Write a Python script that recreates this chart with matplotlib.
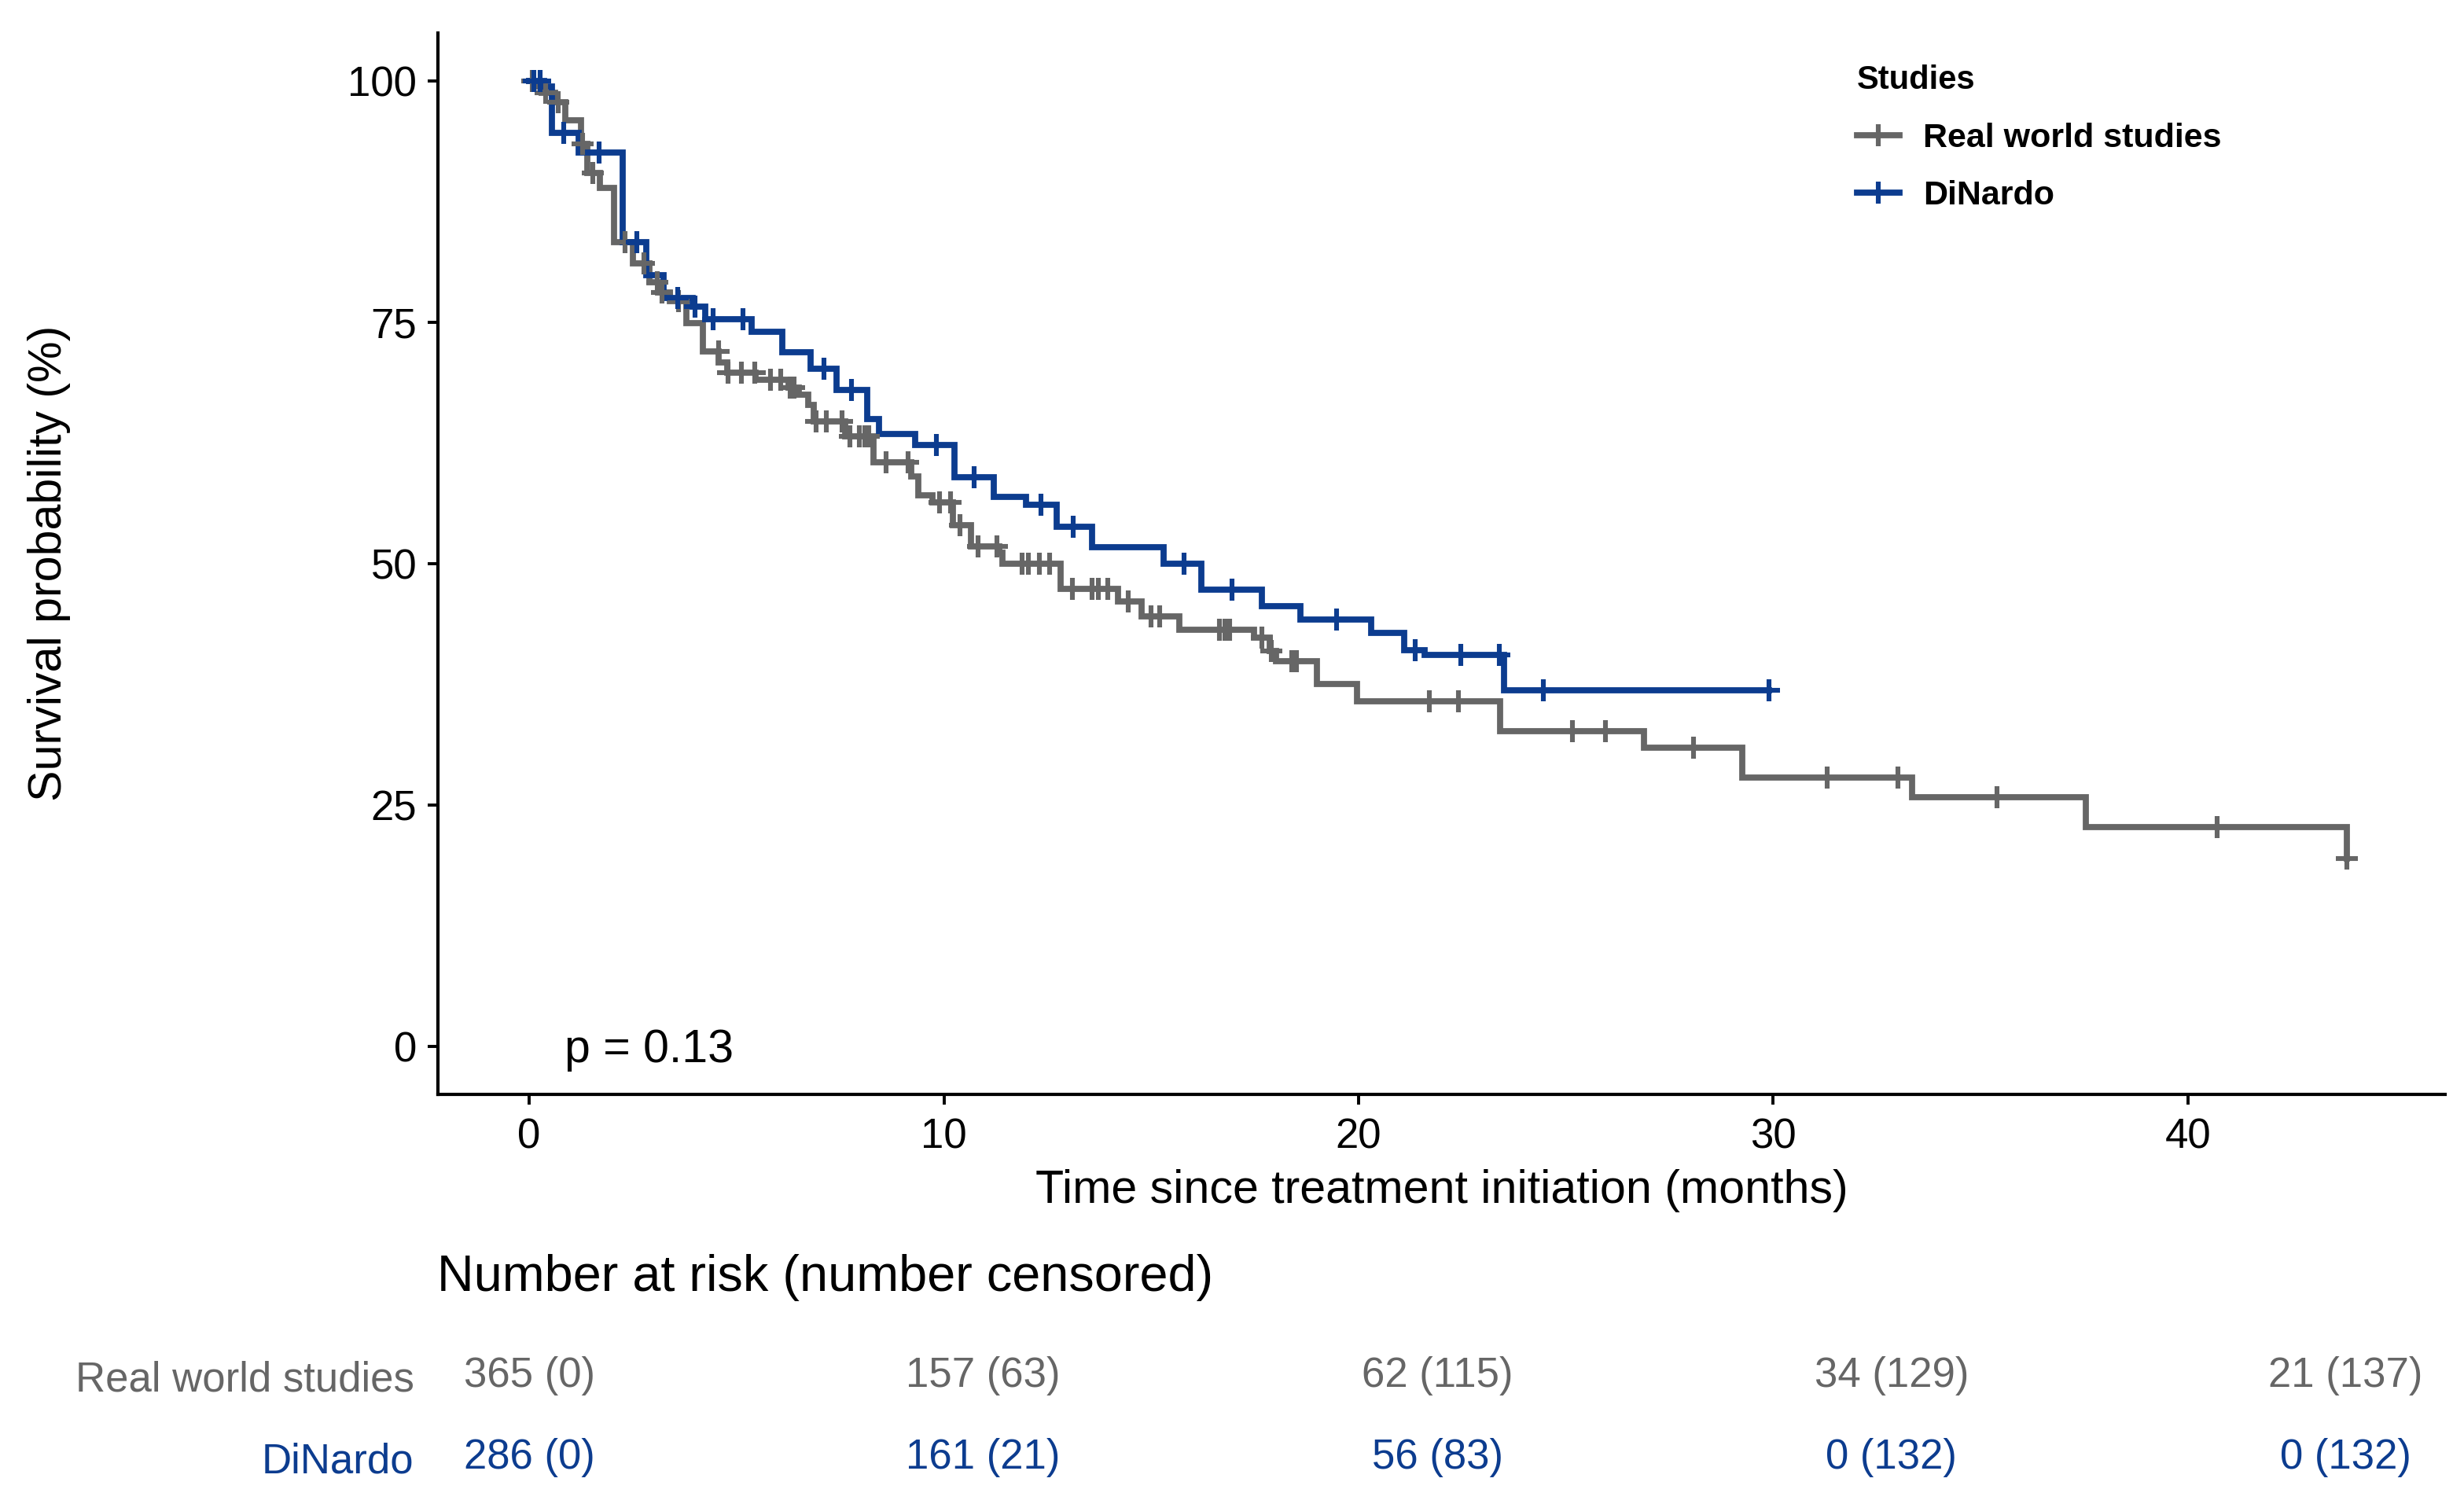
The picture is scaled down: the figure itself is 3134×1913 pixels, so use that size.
import numpy as np
import matplotlib
matplotlib.use("Agg")
import matplotlib.pyplot as plt
from matplotlib.lines import Line2D

plt.rcParams['font.family'] = ['Liberation Sans', 'DejaVu Sans']

# ---------------- data ----------------
real_time = [0.00, 0.10, 0.30, 0.62, 0.87, 1.25, 1.40, 1.70, 2.05, 2.50, 2.90, 3.10, 3.40,
             3.80, 4.18, 4.57, 4.77, 5.45, 6.25, 6.50, 6.73, 6.86, 7.62, 8.30, 9.22, 9.39,
             9.72, 10.22, 10.65, 11.33, 11.42, 12.82, 14.20, 14.76, 15.67, 17.47, 17.85,
             18.00, 19.00, 19.97, 23.42, 26.88, 29.26, 33.35, 37.53, 43.83]
real_surv = [100.0, 99.4, 98.8, 97.8, 95.9, 93.5, 90.5, 88.9, 83.3, 81.1, 79.1, 78.1, 77.2,
             74.9, 72.0, 70.8, 69.8, 69.0, 68.2, 67.5, 66.4, 64.7, 63.2, 60.5, 59.0, 57.1,
             56.3, 54.0, 51.8, 51.1, 50.0, 47.4, 46.1, 44.5, 43.1, 42.3, 40.9,
             39.9, 37.5, 35.7, 32.6, 30.9, 27.8, 25.8, 22.7, 19.4]
real_censor = [0.08, 0.40, 0.71, 1.28, 1.53, 2.32, 2.76, 3.08, 3.20, 3.60, 4.56, 4.80, 5.12,
               5.44, 5.82, 6.07, 6.29, 6.38, 6.92, 7.17, 7.55, 7.74, 7.96, 8.09, 8.18, 8.60,
               9.13, 9.90, 10.17, 10.38, 10.83, 11.27, 11.88, 12.04, 12.30, 12.55, 13.10,
               13.57, 13.73, 13.95, 14.45, 15.00, 15.20, 16.65, 16.77, 16.90, 17.66, 17.90,
               18.38, 18.50, 21.70, 22.40, 25.15, 25.96, 28.08, 31.30, 33.00, 35.40, 40.70,
               43.83]

dinardo_time = [0.00, 0.35, 0.55, 1.19, 2.25, 2.82, 3.25, 3.95, 4.25, 5.37, 6.10, 6.79, 7.42,
                8.15, 8.43, 9.31, 10.26, 11.20, 11.99, 12.72, 13.57, 15.30, 16.20, 17.66,
                18.60, 20.30, 21.10, 21.60, 23.50, 29.90]
dinardo_surv = [100.0, 99.4, 94.6, 92.6, 83.3, 79.9, 77.5, 76.6, 75.3, 74.0, 71.9, 70.2, 68.0,
                65.0, 63.4, 62.3, 58.9, 56.9, 56.1, 53.8, 51.7, 50.0, 47.3, 45.6,
                44.2, 42.8, 41.0, 40.5, 36.9, 36.9]
dinardo_censor = [0.12, 0.27, 0.83, 1.68, 2.60, 3.58, 3.99, 4.43, 5.16, 7.11, 7.77, 9.81,
                  10.73, 12.34, 13.12, 15.80, 16.94, 19.47, 21.37, 22.47, 23.40, 24.45, 29.90]

group_names = ["Real world studies", "DiNardo"]
group_colors = ["#666666", "#0C3C8F"]

risk_times = [0, 10.95, 21.9, 32.85, 43.8]
real_at_risk = [365, 157, 62, 34, 21]
real_censored = [0, 63, 115, 129, 137]
dinardo_at_risk = [286, 161, 56, 0, 0]
dinardo_censored = [0, 21, 83, 132, 132]

x_ticks = [0, 10, 20, 30, 40]
y_ticks = [0, 25, 50, 75, 100]
p_text = "p = 0.13"

# ---------------- figure ----------------
W, H = 3134, 1913
DPI = 200
fig = plt.figure(figsize=(W / DPI, H / DPI), dpi=DPI)

def fbox(x0, y0, x1, y1):
    return [x0 / W, 1 - y1 / H, (x1 - x0) / W, (y1 - y0) / H]

ax = fig.add_axes(fbox(557, 41.5, 3110, 1392))

curves = [(real_time, real_surv, real_censor), (dinardo_time, dinardo_surv, dinardo_censor)]
handles = []
for (t, s, c), name, col in zip(curves, group_names, group_colors):
    t = np.asarray(t); s = np.asarray(s); c = np.asarray(c)
    ax.step(t, s, where='post', color=col, lw=2.8, solid_joinstyle='miter', zorder=3)
    idx = np.searchsorted(t, c, side='right') - 1
    ax.plot(c, s[idx], ls='none', marker='+', ms=10, mew=2.2, color=col, zorder=4)
    handles.append(Line2D([], [], color=col, lw=2.8, marker='+', ms=10, mew=2.2))

ax.set_xlim(-2.2, 46.2)
ax.set_ylim(-5, 105)
ax.set_xticks(x_ticks)
ax.set_yticks(y_ticks)
for sp in ['top', 'right']:
    ax.spines[sp].set_visible(False)
for sp in ['left', 'bottom']:
    ax.spines[sp].set_linewidth(1.5)
ax.tick_params(axis='both', length=4.7, width=1.4, labelsize=19, colors='black')
ax.tick_params(axis='y', pad=5)
ax.tick_params(axis='x', pad=6)
ax.set_xlabel("Time since treatment initiation (months)", fontsize=21.3, labelpad=5.5)
ax.set_ylabel("Survival probability (%)", fontsize=21.3)
ax.yaxis.set_label_coords(-0.183, 0.5)

ax.text(0.85, -0.4, p_text, fontsize=21.3, va='center', ha='left')

leg = fig.legend(handles, group_names, title="Studies", loc='upper left',
                 bbox_to_anchor=(2362 / W, 1 - 82 / H), frameon=False,
                 prop={'weight': 'bold', 'size': 15.5},
                 title_fontproperties={'weight': 'bold', 'size': 15},
                 alignment='left', handlelength=1.25, handletextpad=0.7,
                 labelspacing=0.78, borderpad=0, borderaxespad=0)

# ---------------- risk table ----------------
fig.text(556 / W, 1 - 1625 / H, "Number at risk (number censored)", fontsize=23.3,
         va='center', ha='left')

ax2 = fig.add_axes(fbox(557, 1700, 3110, 1900))
ax2.set_xlim(-2.2, 46.2)
ax2.set_ylim(0, 1)
rows = [(real_at_risk, real_censored), (dinardo_at_risk, dinardo_censored)]
row_y = [(1900 - 1750) / 200, (1900 - 1854) / 200]
for (n, cens), y, col in zip(rows, row_y, group_colors):
    for x, a, b in zip(risk_times, n, cens):
        ax2.text(x, y, f"{a} ({b})", ha='center', va='center', fontsize=19, color=col)
ax2.set_yticks(row_y)
ax2.set_yticklabels(group_names)
for lab, col in zip(ax2.get_yticklabels(), group_colors):
    lab.set_color(col)
ax2.tick_params(axis='y', length=0, pad=11, labelsize=19)
ax2.set_xticks([])
for sp in ax2.spines.values():
    sp.set_visible(False)
ax2.patch.set_alpha(0)

fig.savefig("out.png", dpi=DPI)
